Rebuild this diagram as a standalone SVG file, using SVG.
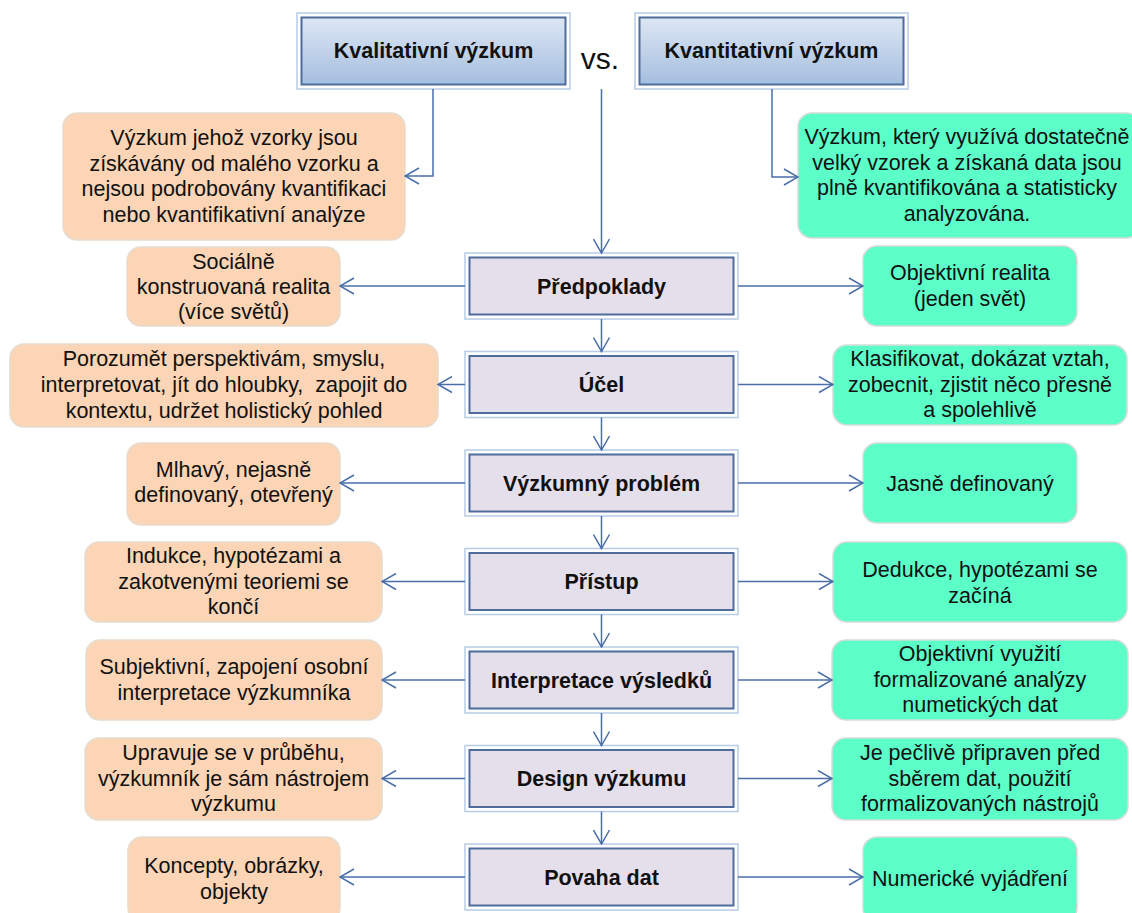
<svg xmlns="http://www.w3.org/2000/svg" width="1132" height="913" viewBox="0 0 1132 913">
<defs>
<linearGradient id="hdr" x1="0" y1="0" x2="0" y2="1">
<stop offset="0" stop-color="#dde7f3"/>
<stop offset="1" stop-color="#a5bedf"/>
</linearGradient>
<marker id="arr" viewBox="0 0 16 18" refX="15" refY="9" markerWidth="16" markerHeight="18" orient="auto" markerUnits="userSpaceOnUse">
<path d="M1,1 L15,9 L1,17" fill="none" stroke="#4a6ea8" stroke-width="1.5"/>
</marker>
</defs>
<style>
.outer{fill:#ffffff;stroke:#b8cce4;stroke-width:1.5}
.hdr{fill:url(#hdr);stroke:#4f6d9c;stroke-width:2}
.mid{fill:#e5dfec;stroke:#4f6d9c;stroke-width:2}
.peach{fill:#fbd5b5;stroke:#e6dccf;stroke-width:1.5}
.green{fill:#5cffc8;stroke:#d3ddd6;stroke-width:1.5}
.b{font-family:"Liberation Sans",Arial,sans-serif;font-weight:bold;font-size:21.5px;fill:#111;text-anchor:middle}
.t{font-family:"Liberation Sans",Arial,sans-serif;font-size:21.5px;fill:#111;text-anchor:middle;white-space:pre}
.con path{fill:none;stroke:#4a6ea8;stroke-width:1.5}
</style>
<rect width="1132" height="913" fill="#ffffff"/>

<g id="kvalitativni">
<rect class="outer" x="297" y="13" width="273" height="76"/>
<rect class="hdr" x="301.5" y="17.5" width="264" height="67"/>
<text class="b" x="433.5" y="58">Kvalitativní výzkum</text>
</g>
<g id="vs">
<text x="600" y="69" font-family="Liberation Sans, Arial, sans-serif" font-size="30" fill="#111" text-anchor="middle">vs.</text>
</g>
<g id="kvantitativni">
<rect class="outer" x="635" y="13" width="273" height="76"/>
<rect class="hdr" x="639.5" y="17.5" width="264" height="67"/>
<text class="b" x="771.5" y="58">Kvantitativní výzkum</text>
</g>

<g id="def-kval">
<rect class="peach" x="63" y="113" width="342" height="127" rx="14"/>
<text class="t" x="234" y="145">Výzkum jehož vzorky jsou</text>
<text class="t" x="234" y="170.5">získávány od malého vzorku a</text>
<text class="t" x="234" y="196">nejsou podrobovány kvantifikaci</text>
<text class="t" x="234" y="221.5">nebo kvantifikativní analýze</text>
</g>
<g id="def-kvant">
<rect class="green" x="798" y="113" width="342" height="125" rx="14"/>
<text class="t" x="967" y="144">Výzkum, který využívá dostatečně</text>
<text class="t" x="967" y="169.5">velký vzorek a získaná data jsou</text>
<text class="t" x="967" y="195">plně kvantifikována a statisticky</text>
<text class="t" x="967" y="220.5">analyzována.</text>
</g>

<g id="predpoklady">
<rect class="outer" x="465" y="253" width="273" height="66"/>
<rect class="mid" x="469.5" y="257.5" width="264" height="57"/>
<text class="b" x="601.5" y="293.5">Předpoklady</text>
</g>
<g id="ucel">
<rect class="outer" x="465" y="351.5" width="273" height="66"/>
<rect class="mid" x="469.5" y="356" width="264" height="57"/>
<text class="b" x="601.5" y="392">Účel</text>
</g>
<g id="problem">
<rect class="outer" x="465" y="450" width="273" height="66"/>
<rect class="mid" x="469.5" y="454.5" width="264" height="57"/>
<text class="b" x="601.5" y="490.5">Výzkumný problém</text>
</g>
<g id="pristup">
<rect class="outer" x="465" y="548.5" width="273" height="66"/>
<rect class="mid" x="469.5" y="553" width="264" height="57"/>
<text class="b" x="601.5" y="589">Přístup</text>
</g>
<g id="interpretace">
<rect class="outer" x="465" y="647" width="273" height="66"/>
<rect class="mid" x="469.5" y="651.5" width="264" height="57"/>
<text class="b" x="601.5" y="687.5">Interpretace výsledků</text>
</g>
<g id="design">
<rect class="outer" x="465" y="745.5" width="273" height="66"/>
<rect class="mid" x="469.5" y="750" width="264" height="57"/>
<text class="b" x="601.5" y="786">Design výzkumu</text>
</g>
<g id="povaha">
<rect class="outer" x="465" y="844" width="273" height="66"/>
<rect class="mid" x="469.5" y="848.5" width="264" height="57"/>
<text class="b" x="601.5" y="884.5">Povaha dat</text>
</g>

<g id="l1">
<rect class="peach" x="127" y="247" width="213" height="79" rx="14"/>
<text class="t" x="233.5" y="269">Sociálně</text>
<text class="t" x="233.5" y="294">konstruovaná realita</text>
<text class="t" x="233.5" y="319">(více světů)</text>
</g>
<g id="l2">
<rect class="peach" x="10" y="344" width="428" height="83" rx="14"/>
<text class="t" x="224" y="366">Porozumět perspektivám, smyslu,</text>
<text class="t" x="224" y="392">interpretovat, jít do hloubky,  zapojit do</text>
<text class="t" x="224" y="418">kontextu, udržet holistický pohled</text>
</g>
<g id="l3">
<rect class="peach" x="127" y="443" width="213" height="82" rx="14"/>
<text class="t" x="233.5" y="477">Mlhavý, nejasně</text>
<text class="t" x="233.5" y="502">definovaný, otevřený</text>
</g>
<g id="l4">
<rect class="peach" x="85" y="542" width="297" height="80" rx="14"/>
<text class="t" x="233.5" y="563">Indukce, hypotézami a</text>
<text class="t" x="233.5" y="588.5">zakotvenými teoriemi se</text>
<text class="t" x="233.5" y="614">končí</text>
</g>
<g id="l5">
<rect class="peach" x="86" y="640" width="296" height="80" rx="14"/>
<text class="t" x="234" y="674">Subjektivní, zapojení osobní</text>
<text class="t" x="234" y="699.5">interpretace výzkumníka</text>
</g>
<g id="l6">
<rect class="peach" x="85" y="738" width="297" height="82" rx="14"/>
<text class="t" x="233.5" y="760">Upravuje se v průběhu,</text>
<text class="t" x="233.5" y="785.5">výzkumník je sám nástrojem</text>
<text class="t" x="233.5" y="811">výzkumu</text>
</g>
<g id="l7">
<rect class="peach" x="128" y="837" width="212" height="85" rx="14"/>
<text class="t" x="234" y="873">Koncepty, obrázky,</text>
<text class="t" x="234" y="898.5">objekty</text>
</g>

<g id="r1">
<rect class="green" x="863" y="246" width="214" height="80" rx="14"/>
<text class="t" x="970" y="280">Objektivní realita</text>
<text class="t" x="970" y="305.5">(jeden svět)</text>
</g>
<g id="r2">
<rect class="green" x="833" y="345" width="294" height="80" rx="14"/>
<text class="t" x="980" y="366">Klasifikovat, dokázat vztah,</text>
<text class="t" x="980" y="391.5">zobecnit, zjistit něco přesně</text>
<text class="t" x="980" y="417">a spolehlivě</text>
</g>
<g id="r3">
<rect class="green" x="863" y="443" width="214" height="80" rx="14"/>
<text class="t" x="970" y="491">Jasně definovaný</text>
</g>
<g id="r4">
<rect class="green" x="833" y="542" width="294" height="80" rx="14"/>
<text class="t" x="980" y="577">Dedukce, hypotézami se</text>
<text class="t" x="980" y="602.5">začíná</text>
</g>
<g id="r5">
<rect class="green" x="832" y="640" width="296" height="80" rx="14"/>
<text class="t" x="980" y="661">Objektivní využití</text>
<text class="t" x="980" y="686.5">formalizované analýzy</text>
<text class="t" x="980" y="712">numetických dat</text>
</g>
<g id="r6">
<rect class="green" x="832" y="738" width="296" height="82" rx="14"/>
<text class="t" x="980" y="760">Je pečlivě připraven před</text>
<text class="t" x="980" y="785.5">sběrem dat, použití</text>
<text class="t" x="980" y="811">formalizovaných nástrojů</text>
</g>
<g id="r7">
<rect class="green" x="863" y="837" width="214" height="85" rx="14"/>
<text class="t" x="970" y="886">Numerické vyjádření</text>
</g>

<g id="connectors" class="con">
<path d="M433,89 V176 H405" marker-end="url(#arr)"/>
<path d="M772,89 V177 H798" marker-end="url(#arr)"/>
<path d="M601.5,89 V253" marker-end="url(#arr)"/>
<path d="M601.5,319 V351.5" marker-end="url(#arr)"/>
<path d="M601.5,417.5 V450" marker-end="url(#arr)"/>
<path d="M601.5,516 V548.5" marker-end="url(#arr)"/>
<path d="M601.5,614.5 V647" marker-end="url(#arr)"/>
<path d="M601.5,713 V745.5" marker-end="url(#arr)"/>
<path d="M601.5,811.5 V844" marker-end="url(#arr)"/>
<path d="M465,286 H340" marker-end="url(#arr)"/>
<path d="M465,384.5 H438" marker-end="url(#arr)"/>
<path d="M465,483 H340" marker-end="url(#arr)"/>
<path d="M465,581.5 H382" marker-end="url(#arr)"/>
<path d="M465,680 H382" marker-end="url(#arr)"/>
<path d="M465,778.5 H382" marker-end="url(#arr)"/>
<path d="M465,877 H340" marker-end="url(#arr)"/>
<path d="M738,286 H863" marker-end="url(#arr)"/>
<path d="M738,384.5 H833" marker-end="url(#arr)"/>
<path d="M738,483 H863" marker-end="url(#arr)"/>
<path d="M738,581.5 H833" marker-end="url(#arr)"/>
<path d="M738,680 H832" marker-end="url(#arr)"/>
<path d="M738,778.5 H832" marker-end="url(#arr)"/>
<path d="M738,877 H863" marker-end="url(#arr)"/>
</g>
</svg>
